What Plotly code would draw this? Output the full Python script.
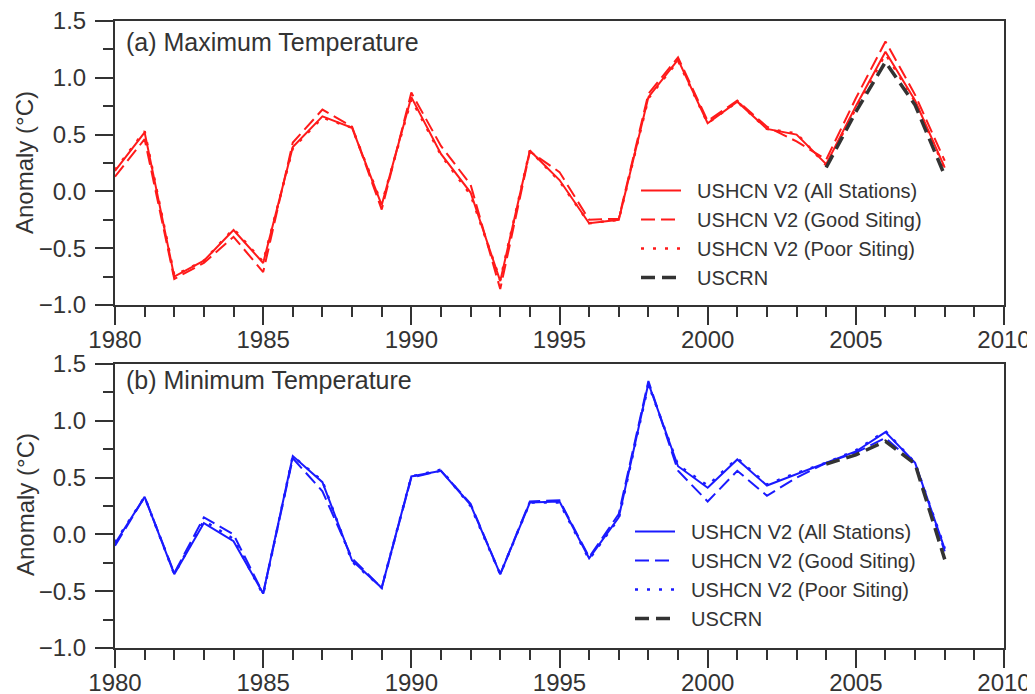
import plotly.graph_objects as go

years = list(range(1980, 2009))
crn_years = [2004, 2005, 2006, 2007, 2008]

tmax_all = [0.18, 0.52, -0.75, -0.61, -0.34, -0.63, 0.39, 0.66, 0.56, -0.12, 0.83, 0.33,
            -0.01, -0.79, 0.36, 0.10, -0.28, -0.25, 0.83, 1.16, 0.60, 0.79, 0.55, 0.50,
            0.24, 0.75, 1.23, 0.80, 0.21]
tmax_good = [0.13, 0.46, -0.77, -0.63, -0.40, -0.71, 0.43, 0.72, 0.57, -0.16, 0.87, 0.40,
             0.06, -0.86, 0.35, 0.17, -0.25, -0.24, 0.86, 1.18, 0.62, 0.80, 0.57, 0.44,
             0.28, 0.82, 1.32, 0.85, 0.27]
tmax_poor = [0.19, 0.53, -0.74, -0.61, -0.33, -0.62, 0.38, 0.65, 0.56, -0.11, 0.81, 0.32,
             -0.03, -0.78, 0.36, 0.09, -0.28, -0.25, 0.82, 1.15, 0.60, 0.79, 0.55, 0.51,
             0.23, 0.73, 1.21, 0.79, 0.20]
tmax_crn = [0.21, 0.70, 1.14, 0.76, 0.14]

tmin_all = [-0.08, 0.33, -0.35, 0.10, -0.06, -0.52, 0.69, 0.46, -0.23, -0.47, 0.51, 0.56,
            0.26, -0.35, 0.28, 0.29, -0.21, 0.15, 1.33, 0.60, 0.41, 0.66, 0.43, 0.53,
            0.63, 0.73, 0.90, 0.63, -0.13]
tmin_good = [-0.10, 0.33, -0.34, 0.15, 0.00, -0.52, 0.67, 0.38, -0.21, -0.47, 0.50, 0.56,
             0.27, -0.35, 0.29, 0.30, -0.20, 0.18, 1.35, 0.56, 0.29, 0.56, 0.34, 0.50,
             0.63, 0.72, 0.85, 0.62, -0.15]
tmin_poor = [-0.07, 0.33, -0.35, 0.12, -0.04, -0.53, 0.69, 0.47, -0.24, -0.47, 0.51, 0.57,
             0.25, -0.35, 0.28, 0.28, -0.22, 0.14, 1.32, 0.61, 0.43, 0.67, 0.44, 0.54,
             0.63, 0.74, 0.91, 0.63, -0.12]
tmin_crn = [0.62, 0.70, 0.82, 0.62, -0.22]

legend_names = ["USHCN V2 (All Stations)", "USHCN V2 (Good Siting)",
                "USHCN V2 (Poor Siting)", "USCRN"]
panel_titles = ["(a) Maximum Temperature", "(b) Minimum Temperature"]
y_title = "Anomaly (°C)"

OFF = 8  # page body margin offset of the plot div
W, H = 1035 - OFF, 694 - OFF
def px(x):
    return (x - OFF) / W
def py(y):
    return 1 - (y - OFF) / H

RED = "#ff1a1a"
BLUE = "#1a1aff"
CRN = "#333333"
TXT = "#333333"
FONT = "Liberation Sans, Arial, sans-serif"
PAD = "\u00a0\u00a0"

fig = go.Figure()

def add_panel(all_v, good_v, poor_v, crn_v, color, xa, ya, leg):
    fig.add_trace(go.Scatter(x=years, y=all_v, mode="lines", name=PAD + legend_names[0],
                             line=dict(color=color, width=2), xaxis=xa, yaxis=ya, legend=leg))
    fig.add_trace(go.Scatter(x=years, y=good_v, mode="lines", name=PAD + legend_names[1],
                             line=dict(color=color, width=2, dash="14px,6px"), xaxis=xa, yaxis=ya, legend=leg))
    fig.add_trace(go.Scatter(x=years, y=poor_v, mode="lines", name=PAD + legend_names[2],
                             line=dict(color=color, width=2.5, dash="3px,9px"), xaxis=xa, yaxis=ya, legend=leg))
    fig.add_trace(go.Scatter(x=crn_years, y=crn_v, mode="lines", name=PAD + legend_names[3],
                             line=dict(color=CRN, width=3.5, dash="14px,7px"), xaxis=xa, yaxis=ya, legend=leg))

add_panel(tmax_all, tmax_good, tmax_poor, tmax_crn, RED, "x", "y", "legend")
add_panel(tmin_all, tmin_good, tmin_poor, tmin_crn, BLUE, "x2", "y2", "legend2")

xdom = [px(115), px(1004)]
common_x = dict(range=[1980, 2010], tick0=1980, dtick=5, ticks="outside", ticklen=18,
                tickwidth=2, tickcolor=TXT, showline=True, linecolor=TXT, linewidth=2,
                mirror=True, showgrid=False, zeroline=False, domain=xdom, automargin=False,
                ticklabeloverflow="allow", ticklabelstandoff=-6,
                tickfont=dict(size=24, color=TXT, family=FONT),
                minor=dict(dtick=1, ticks="outside", ticklen=10, tickwidth=2, tickcolor=TXT, showgrid=False))
common_y = dict(range=[-1.0, 1.5], tick0=-1.0, dtick=0.5, ticks="outside", ticklen=18,
                tickwidth=2, tickcolor=TXT, showline=True, linecolor=TXT, linewidth=2,
                mirror=True, showgrid=False, zeroline=False, tickformat=".1f", automargin=False,
                ticklabeloverflow="allow", ticklabelstandoff=4,
                tickfont=dict(size=24, color=TXT, family=FONT),
                minor=dict(dtick=0.25, ticks="outside", ticklen=10, tickwidth=2, tickcolor=TXT, showgrid=False))

legend_common = dict(font=dict(size=20, color=TXT, family=FONT), bgcolor="rgba(0,0,0,0)",
                     borderwidth=0, xanchor="left", yanchor="top", itemwidth=40,
                     tracegroupgap=0)

fig.update_layout(
    width=W, height=H,
    margin=dict(l=0, r=0, t=0, b=0, autoexpand=False),
    paper_bgcolor="white", plot_bgcolor="white",
    font=dict(family=FONT, color=TXT),
    xaxis=dict(common_x, anchor="y"),
    yaxis=dict(common_y, anchor="x", domain=[py(305), py(21)]),
    xaxis2=dict(common_x, anchor="y2"),
    yaxis2=dict(common_y, anchor="x2", domain=[py(648), py(364)]),
    legend=dict(legend_common, x=px(636), y=py(171)),
    legend2=dict(legend_common, x=px(630), y=py(512)),
    showlegend=True,
)

annotations = []
for t, yc in zip(panel_titles, [42, 380]):
    annotations.append(dict(text=t, x=px(124), y=py(yc), xref="paper", yref="paper",
                            xanchor="left", yanchor="middle", showarrow=False,
                            font=dict(size=25, color=TXT, family=FONT)))
for yc in [163, 505]:
    annotations.append(dict(text=y_title, x=px(25), y=py(yc), xref="paper", yref="paper",
                            xanchor="center", yanchor="middle", textangle=-90, showarrow=False,
                            font=dict(size=24, color=TXT, family=FONT)))
fig.update_layout(annotations=annotations)

fig.write_html("out.html")
